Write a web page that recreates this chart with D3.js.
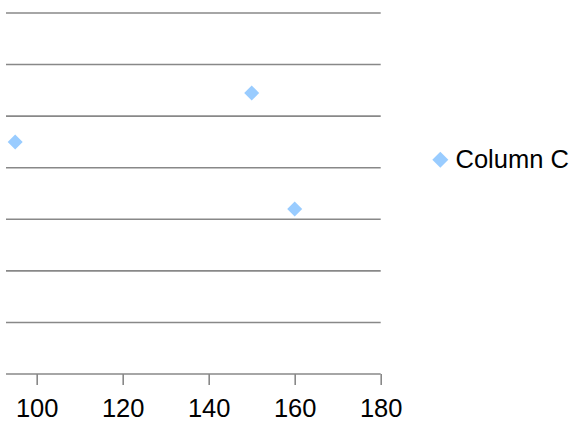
<!DOCTYPE html>
<html><head><meta charset="utf-8">
<script src="https://cdn.jsdelivr.net/npm/d3@7"></script>
<style>html,body{margin:0;padding:0;background:#fff;}svg{display:block;}</style>
</head><body>
<script>
const seriesName = "Column C";
const xValues = [95, 150, 160];
const yValues = [4.5, 5.45, 3.2];
const xTicks = [100, 120, 140, 160, 180];
const yGrid = [0, 1, 2, 3, 4, 5, 6, 7];

const W = 577, H = 427;
const svg = d3.select("body").append("svg").attr("width", W).attr("height", H);
const x = d3.scaleLinear().domain([100, 180]).range([36.7, 380.7]);
const y = d3.scaleLinear().domain([0, 7]).range([374, 13]);
const left = 6, right = x(180);
const gridColor = "#888888";
const color = "#99ccff";
const font = "'Liberation Sans', Arial, sans-serif";

svg.append("g").selectAll("line").data(yGrid).join("line")
  .attr("x1", left).attr("x2", right)
  .attr("y1", d => y(d)).attr("y2", d => y(d))
  .attr("stroke", gridColor).attr("stroke-width", 1.6);

const ax = svg.append("g").attr("transform", `translate(0,${y(0)})`)
  .call(d3.axisBottom(x).tickValues(xTicks).tickSize(11).tickPadding(13.5).tickSizeOuter(0));
ax.select(".domain").remove();
ax.selectAll(".tick line").attr("stroke", gridColor).attr("stroke-width", 1.6);
ax.selectAll(".tick text").attr("fill", "#000").style("font-family", font).style("font-size", "25.5px");

function diamondPath(cx, cy, r) {
  return `M${cx},${cy - r}L${cx + r},${cy}L${cx},${cy + r}L${cx - r},${cy}Z`;
}
const pts = xValues.map((v, i) => ({x: v, y: yValues[i]}));
svg.append("g").selectAll("path").data(pts).join("path")
  .attr("d", d => diamondPath(x(d.x), y(d.y), 7.5))
  .attr("fill", color);

const lg = svg.append("g");
lg.append("path").attr("d", diamondPath(440.3, 159.8, 8)).attr("fill", color);
lg.append("text").attr("x", 455.5).attr("y", 168.3)
  .style("font-family", font).style("font-size", "25.5px").attr("fill", "#000").text(seriesName);
</script>
</body></html>
